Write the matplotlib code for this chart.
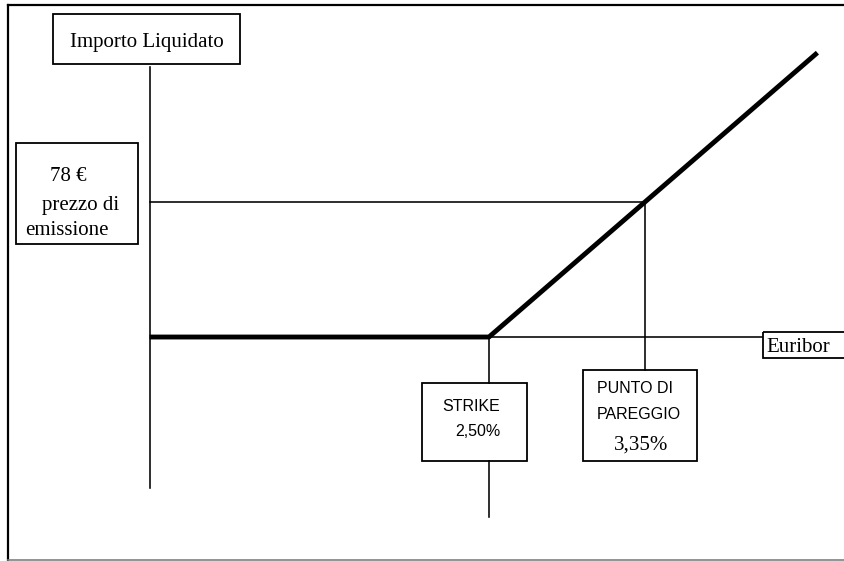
import matplotlib
matplotlib.use("Agg")
import matplotlib.pyplot as plt
from matplotlib.patches import Rectangle
from matplotlib.lines import Line2D
from matplotlib.transforms import Affine2D

# ---- data ----
strike = 2.50            # Euribor strike (%)
breakeven = 3.35         # punto di pareggio (%)
price = 78               # prezzo di emissione (€)
floor_value = 0          # importo minimo
x_axis_pos = 0.65        # position of the vertical "Importo" axis (%)
x_end = 4.29             # end of payoff line (%)
euribor_end = 3.99       # end of Euribor axis (%)
payoff_x = [x_axis_pos, strike, x_end]
payoff_y = [floor_value, floor_value,
            floor_value + (x_end - strike) * (price - floor_value) / (breakeven - strike)]

labels = {
    "importo": "Importo Liquidato",
    "prezzo": ["78 €", "prezzo di", "emissione"],
    "strike": ["STRIKE", "2,50%"],
    "pareggio": ["PUNTO DI", "PAREGGIO", "3,35%"],
    "euribor": "Euribor",
}

W, H = 844, 561
fig = plt.figure(figsize=(W / 100, H / 100), dpi=100)
ax = fig.add_axes([0, 0, 1, 1])
ax.set_xlim(-0.165, 4.435)
ax.set_ylim(-129.4, 194.7)
ax.axis("off")

pix = Affine2D().scale(1 / W, -1 / H).translate(0, 1) + fig.transFigure

SERIF = "Liberation Serif"
SANS = "Liberation Sans"
thin = 1.15
thick = 3.5
SERIF_SIZE = 15
SANS_SIZE = 11.5

# frame
fig.add_artist(Line2D([8, 8], [5, 560], transform=pix, color="black", lw=1.6))
fig.add_artist(Line2D([8, 844], [5, 5], transform=pix, color="black", lw=1.6))
fig.add_artist(Line2D([8, 844], [560, 560], transform=pix, color="#808080", lw=1.2))

# vertical importo axis
ax.plot([x_axis_pos, x_axis_pos], [156, -87.2], color="black", lw=thin)
# euribor axis
ax.plot([strike, euribor_end], [floor_value, floor_value], color="black", lw=thin)
# price line
ax.plot([x_axis_pos, breakeven], [price, price], color="black", lw=thin)
# breakeven vertical
ax.plot([breakeven, breakeven], [price, -19.1], color="black", lw=thin)
# strike vertical
ax.plot([strike, strike], [floor_value, -26.6], color="black", lw=thin)
ax.plot([strike, strike], [-71.6, -104], color="black", lw=thin)
# payoff
ax.plot(payoff_x, payoff_y, color="black", lw=thick, solid_capstyle="butt")


def box(x0, y0, x1, y1):
    fig.add_artist(Rectangle((x0, y0), x1 - x0, y1 - y0, transform=pix,
                             fill=False, edgecolor="black", lw=1.3))


def txt(x, y, s, family, size):
    fig.text(x, y, s, transform=pix, family=family, fontsize=size,
             ha="left", va="baseline")


box(53, 14, 240, 64)
txt(70, 47, labels["importo"], SERIF, SERIF_SIZE)

box(16, 143, 138, 244)
txt(50, 181, labels["prezzo"][0], SERIF, SERIF_SIZE)
txt(42, 210, labels["prezzo"][1], SERIF, SERIF_SIZE)
txt(25, 235, labels["prezzo"][2], SERIF, SERIF_SIZE)

box(422, 383, 527, 461)
txt(442, 411, labels["strike"][0], SANS, SANS_SIZE)
txt(455, 436, labels["strike"][1], SANS, SANS_SIZE)

box(583, 370, 697, 461)
txt(597, 393, labels["pareggio"][0], SANS, SANS_SIZE)
txt(597, 419, labels["pareggio"][1], SANS, SANS_SIZE)
txt(614, 450, labels["pareggio"][2], SERIF, SERIF_SIZE)

box(763, 332, 850, 358)
txt(766, 352, labels["euribor"], SERIF, SERIF_SIZE)

fig.savefig("out.png", dpi=100)
